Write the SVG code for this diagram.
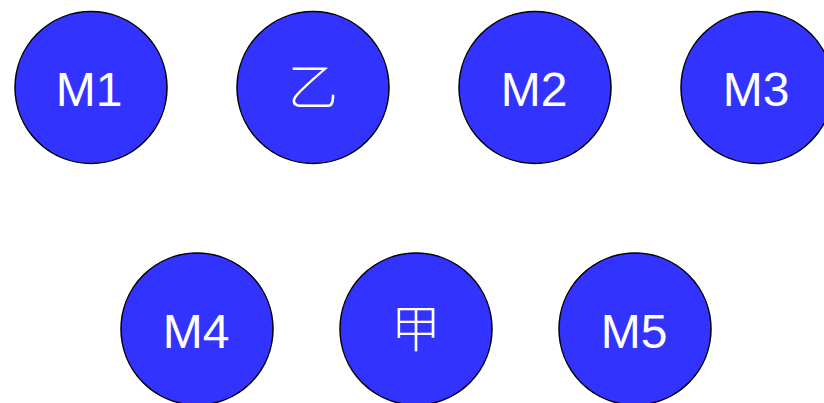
<svg xmlns="http://www.w3.org/2000/svg" width="824" height="403" viewBox="0 0 824 403">
<style>
.n circle{fill:#3333ff;stroke:#000;stroke-width:1.5}
.n text{fill:#fff;font-family:"Liberation Sans",Arial,"Noto Sans CJK SC",sans-serif;font-size:48px;text-anchor:middle}
.n text.cjk{font-family:"Noto Sans CJK SC",sans-serif;font-weight:300;font-size:50px}
</style>
<rect width="824" height="403" fill="#fff"/>
<g id="edges"></g>
<g id="M1" class="n"><circle cx="91" cy="87.5" r="76"/><text x="89" y="106">M1</text></g>
<g id="yi" class="n"><circle cx="313" cy="87.5" r="76"/><text class="cjk" x="313" y="105">乙</text></g>
<g id="M2" class="n"><circle cx="535" cy="87.5" r="76"/><text x="534" y="106">M2</text></g>
<g id="M3" class="n"><circle cx="757" cy="87.5" r="76"/><text x="756" y="106">M3</text></g>
<g id="M4" class="n"><circle cx="197" cy="329" r="76"/><text x="196" y="347.5">M4</text></g>
<g id="jia" class="n"><circle cx="416" cy="329" r="76"/><text class="cjk" x="416" y="346.5">甲</text></g>
<g id="M5" class="n"><circle cx="635" cy="329" r="76"/><text x="634" y="347.5">M5</text></g>
</svg>
